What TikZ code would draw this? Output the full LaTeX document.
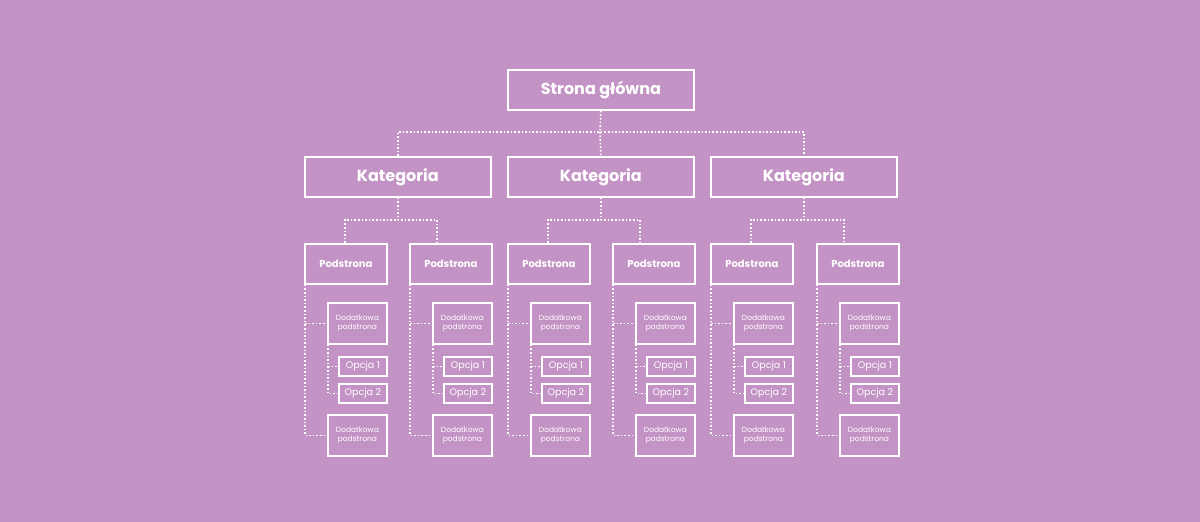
\documentclass[tikz,border=0pt]{standalone}
\usepackage{fontspec}
\setmainfont{Poppins}
\definecolor{bg}{HTML}{C493C5}
\begin{document}
\begin{tikzpicture}[x=1pt,y=-1pt,
  box/.style={draw=white,line width=1.8pt,inner sep=0pt,text=white,anchor=north west},
  con/.style={draw=white,line width=1.6pt,dotted},
  big/.style={box,minimum width=186pt,minimum height=40pt,font=\fontsize{16}{18}\selectfont\bfseries},
  sub/.style={box,minimum width=82pt,minimum height=40pt,font=\fontsize{10}{12}\selectfont\bfseries},
  dod/.style={box,minimum width=59pt,minimum height=41pt,align=center,font=\fontsize{7.5}{9}\selectfont},
  opc/.style={box,minimum width=48pt,minimum height=19pt,font=\fontsize{9.5}{11}\selectfont}]
\fill[bg] (0,0) rectangle (1200,522);
\useasboundingbox (0,0) rectangle (1200,522);
\node[big] (home) at (507,69) {Strona główna};
\foreach \c/\x in {1/304,2/507,3/710}{
  \node[big] (k\c) at (\x,156) {Kategoria};
}
\coordinate (hb) at (600,132);
\draw[con] (home.south) -- (hb);
\draw[con] (k1.north) |- (hb) -| (k3.north);
\draw[con] (hb) -- (k2.north);
\foreach \i/\x/\c in {1/304/1,2/409/1,3/507/2,4/612/2,5/710/3,6/816/3}{
  \node[sub] (p\i) at (\x,243) {Podstrona};
  \node[dod] (d\i) at (\x+23,302) {Dodatkowa\\podstrona};
  \node[opc] (o\i) at (\x+34,356) {Opcja 1};
  \node[opc] (q\i) at (\x+34,383) {Opcja 2};
  \node[dod] (e\i) at (\x+23,414) {Dodatkowa\\podstrona};
  \coordinate (pa\i) at ([xshift=1pt]p\i.south west);
  \coordinate (da\i) at ([xshift=1pt]d\i.south west);
  \draw[con] (pa\i) |- (e\i.west);
  \draw[con] (pa\i |- d\i.west) -- (d\i.west);
  \draw[con] (da\i) |- (q\i.west);
  \draw[con] (da\i |- o\i.west) -- (o\i.west);
}
\foreach \c/\a/\b in {1/1/2,2/3/4,3/5/6}{
  \coordinate (kb\c) at (k\c.south |- 0,220);
  \draw[con] (k\c.south) -- (kb\c);
  \draw[con] ([xshift=41pt]p\a.north west) |- (kb\c) -| ([xshift=28pt]p\b.north west);
}
\end{tikzpicture}
\end{document}
